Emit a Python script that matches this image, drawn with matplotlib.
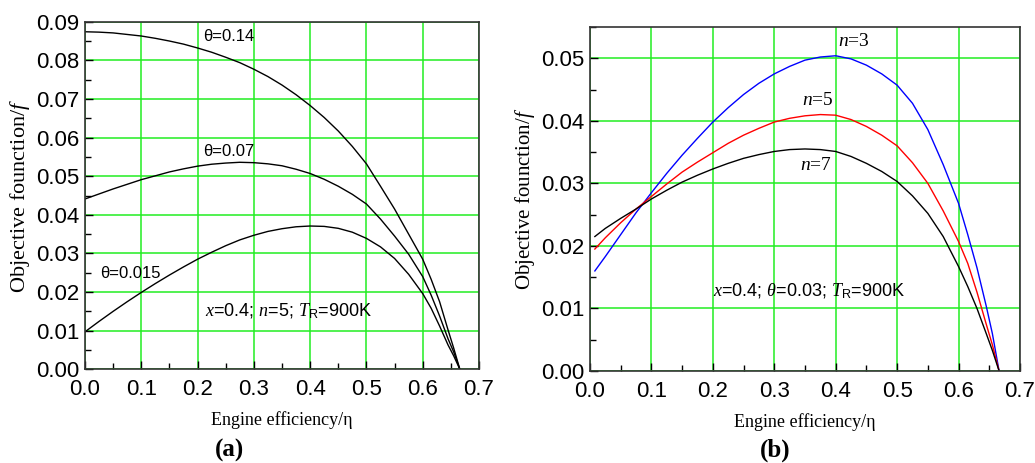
import matplotlib.pyplot as plt
from matplotlib.ticker import MultipleLocator, FormatStrFormatter

plt.rcParams["font.family"] = ["Liberation Sans", "DejaVu Sans"]
plt.rcParams["mathtext.fontset"] = "custom"
plt.rcParams["mathtext.it"] = "Liberation Serif:italic"
plt.rcParams["mathtext.rm"] = "Liberation Sans"

GRID = "#22ee22"
SERIF = "Liberation Serif"

# panel (a): objective function vs engine efficiency, x=0.4, n=5, T_R=900K
eta_a = [0.0, 0.025, 0.05, 0.075, 0.1, 0.125, 0.15, 0.175, 0.2, 0.225, 0.25,
         0.275, 0.3, 0.325, 0.35, 0.375, 0.4, 0.425, 0.45, 0.475, 0.5, 0.525,
         0.55, 0.575, 0.6, 0.615, 0.63, 0.645, 0.655, 0.666]
f_theta_014 = [0.0874, 0.0873, 0.0871, 0.0867, 0.0863, 0.0857, 0.0850, 0.0842,
               0.0832, 0.0821, 0.0808, 0.0794, 0.0777, 0.0758, 0.0736, 0.0711,
               0.0683, 0.0652, 0.0617, 0.0577, 0.0532, 0.0474, 0.0415, 0.0350,
               0.0285, 0.0233, 0.0175, 0.0102, 0.0055, 0.0]
f_theta_007 = [0.0441, 0.0454, 0.0467, 0.0479, 0.0491, 0.0501, 0.0511, 0.0519,
               0.0526, 0.0531, 0.0534, 0.0536, 0.0535, 0.0532, 0.0527, 0.0518,
               0.0507, 0.0492, 0.0474, 0.0453, 0.0428, 0.0389, 0.0345, 0.0298,
               0.0240, 0.0192, 0.0138, 0.0079, 0.0045, 0.0]
f_theta_0015 = [0.0097, 0.0124, 0.0150, 0.0175, 0.0199, 0.0222, 0.0244, 0.0265,
                0.0285, 0.0303, 0.0320, 0.0335, 0.0347, 0.0357, 0.0364, 0.0369,
                0.0371, 0.0370, 0.0365, 0.0355, 0.0339, 0.0317, 0.0287, 0.0246,
                0.0196, 0.0158, 0.0112, 0.0063, 0.0035, 0.0]

# panel (b): x=0.4, theta=0.03, T_R=900K
eta_b = [0.008, 0.025, 0.05, 0.075, 0.1, 0.125, 0.15, 0.175, 0.2, 0.225, 0.25,
         0.275, 0.3, 0.325, 0.35, 0.375, 0.4, 0.425, 0.45, 0.475, 0.5, 0.525,
         0.55, 0.575, 0.6, 0.615, 0.63, 0.645, 0.655, 0.666]
f_n3 = [0.0160, 0.0183, 0.0218, 0.0253, 0.0285, 0.0316, 0.0345, 0.0372, 0.0398,
        0.0421, 0.0442, 0.0460, 0.0475, 0.0487, 0.0497, 0.0502, 0.0504, 0.0499,
        0.0489, 0.0475, 0.0457, 0.0428, 0.0386, 0.0330, 0.0268, 0.0218, 0.0165,
        0.0104, 0.0060, 0.0]
f_n5 = [0.0195, 0.0213, 0.0237, 0.0259, 0.0279, 0.0299, 0.0318, 0.0334, 0.0349,
        0.0364, 0.0377, 0.0388, 0.0398, 0.0404, 0.0408, 0.0410, 0.0409, 0.0402,
        0.0391, 0.0377, 0.0360, 0.0333, 0.0300, 0.0256, 0.0207, 0.0172, 0.0126,
        0.0075, 0.0042, 0.0]
f_n7 = [0.0215, 0.0228, 0.0244, 0.0259, 0.0275, 0.0289, 0.0302, 0.0313, 0.0323,
        0.0332, 0.0340, 0.0346, 0.0351, 0.0354, 0.0355, 0.0354, 0.0351, 0.0343,
        0.0332, 0.0319, 0.0303, 0.0280, 0.0252, 0.0215, 0.0167, 0.0135, 0.0100,
        0.0060, 0.0033, 0.0]


def style_axes(ax, ymax, ystep, ylabel_size):
    ax.set_xlim(0, 0.7)
    ax.set_ylim(0, ymax)
    ax.xaxis.set_major_locator(MultipleLocator(0.1))
    ax.xaxis.set_minor_locator(MultipleLocator(0.05))
    ax.yaxis.set_major_locator(MultipleLocator(ystep))
    ax.yaxis.set_minor_locator(MultipleLocator(ystep / 2))
    ax.xaxis.set_major_formatter(FormatStrFormatter("%.1f"))
    ax.yaxis.set_major_formatter(FormatStrFormatter("%.2f"))
    ax.tick_params(which="both", direction="in", labelsize=16, top=False, right=False)
    ax.tick_params(which="major", length=6, width=1)
    ax.tick_params(which="minor", length=4, width=1)
    ax.tick_params(axis="x", which="major", pad=7)
    ax.tick_params(axis="y", which="major", pad=4)
    ax.grid(True, which="major", color=GRID, linewidth=1.1)
    ax.set_axisbelow(True)
    for s in ax.spines.values():
        s.set_linewidth(1.2)
        s.set_color("#333333")
    ax.set_xlabel("Engine efficiency/η", family=SERIF, fontsize=13, labelpad=8)
    ax.set_ylabel("Objective founction/$\\it{f}$", family=SERIF,
                  fontsize=ylabel_size, labelpad=3)


fig = plt.figure(figsize=(10.35, 4.63), dpi=100)
ax1 = fig.add_axes([0.0821, 0.2024, 0.3807, 0.7507])
ax2 = fig.add_axes([0.570, 0.1987, 0.4155, 0.743])

style_axes(ax1, 0.09, 0.01, 16)
ax1.plot(eta_a, f_theta_014, color="black", lw=1.0)
ax1.plot(eta_a, f_theta_007, color="black", lw=1.0)
ax1.plot(eta_a, f_theta_0015, color="black", lw=1.0)
ax1.text(0.21, 0.0863, "θ=0.14", fontsize=12, va="center")
ax1.text(0.21, 0.0564, "θ=0.07", fontsize=12, va="center")
ax1.text(0.027, 0.0249, "θ=0.015", fontsize=12, va="center")
ax1.text(0.213, 0.0149, "$\\it{x}$=0.4; $\\it{n}$=5; $\\it{T}_\\mathrm{R}$=900K",
         fontsize=13, va="center")

style_axes(ax2, 0.055, 0.01, 15)
ax2.plot(eta_b, f_n3, color="blue", lw=1.0)
ax2.plot(eta_b, f_n5, color="red", lw=1.0)
ax2.plot(eta_b, f_n7, color="black", lw=1.0)
for xl, yl, lab in [(0.404, 0.0527, "3"), (0.345, 0.0433, "5"), (0.342, 0.0329, "7")]:
    ax2.text(xl, yl, "$\\it{n}$=" + lab, family=SERIF, fontsize=14, va="center")
ax2.text(0.20, 0.0127, "$\\it{x}$=0.4; $\\it{\\theta}$=0.03; $\\it{T}_\\mathrm{R}$=900K",
         fontsize=13, va="center")

fig.text(0.2222, 0.028, "(a)", family=SERIF, fontweight="bold", fontsize=18,
         ha="center", va="center")
fig.text(0.749, 0.028, "(b)", family=SERIF, fontweight="bold", fontsize=18,
         ha="center", va="center")

fig.savefig("out.png", dpi=100)
